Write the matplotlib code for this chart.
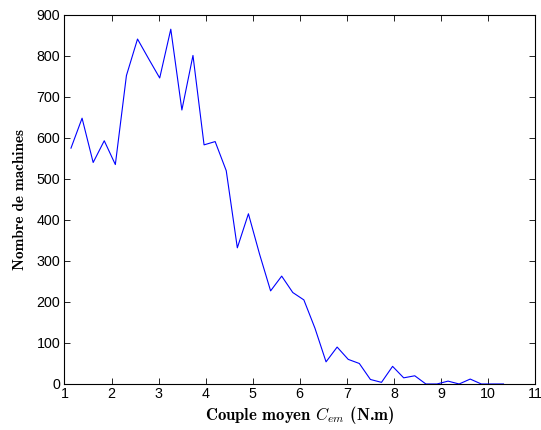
import numpy as np
import matplotlib
matplotlib.use("Agg")
import matplotlib.pyplot as plt

plt.rcParams['mathtext.fontset'] = 'cm'
plt.rcParams['axes.unicode_minus'] = False

x_start = 1.138
x_step = 0.2357
counts = [575, 648, 540, 593, 535, 752, 841, 793, 746, 865,
          668, 801, 583, 591, 520, 332, 415, 317, 227, 263,
          223, 205, 136, 54, 90, 60, 50, 11, 4, 43,
          15, 20, 0, 0, 7, 0, 12, 0, 0, 0]
x = x_start + x_step * np.arange(len(counts))

xticks = list(range(1, 12))
yticks = list(range(0, 1000, 100))

fig = plt.figure(figsize=(5.41, 4.30), dpi=100)
ax = fig.add_axes([0.1192, 0.107, 0.8697, 0.8585])
ax.plot(x, counts, color=(0, 0, 1), lw=0.8)
ax.set_xlim(1, 11)
ax.set_ylim(0, 900)
ax.set_xticks(xticks)
ax.set_yticks(yticks)
ax.tick_params(direction='in', top=True, right=True, length=4, width=0.6,
               labelsize=10.3)
ax.tick_params(axis='x', pad=2)
ax.tick_params(axis='y', pad=3)
for lab in ax.get_xticklabels() + ax.get_yticklabels():
    lab.set_fontfamily('Liberation Sans')
for s in ax.spines.values():
    s.set_linewidth(0.8)
ax.set_xlabel(r'Couple moyen $C_{em}$ (N.m)', fontfamily='cmb10', fontsize=12, labelpad=2)
ax.set_ylabel('Nombre de machines', fontfamily='cmb10', fontsize=11, labelpad=7)
fig.savefig('out.png', dpi=100)
